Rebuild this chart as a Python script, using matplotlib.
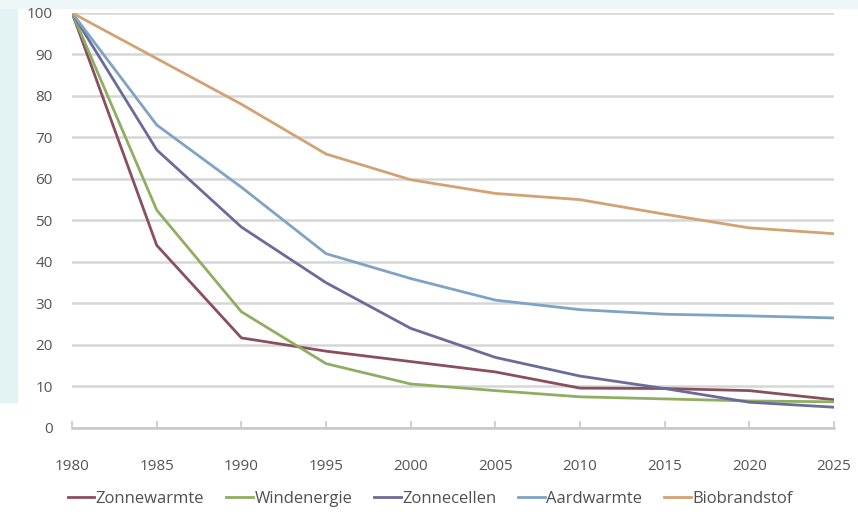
import matplotlib.pyplot as plt
from matplotlib.patches import Rectangle

# Jaren en relatieve kosten (1980 = 100)
years = [1980, 1985, 1990, 1995, 2000, 2005, 2010, 2015, 2020, 2025]
zonnewarmte = [100, 44, 21.7, 18.5, 16, 13.5, 9.6, 9.5, 9, 6.8]
windenergie = [100, 52.5, 28, 15.5, 10.6, 9, 7.5, 7, 6.5, 6.3]
zonnecellen = [100, 67, 48.4, 35, 24, 17, 12.5, 9.5, 6.2, 5]
aardwarmte = [100, 73, 58, 42, 36, 30.8, 28.5, 27.4, 27, 26.5]
biobrandstof = [100, 89, 78, 66, 59.8, 56.5, 55, 51.5, 48.2, 46.8]

series = [
    ('Zonnewarmte', zonnewarmte, '#8a4f5f'),
    ('Windenergie', windenergie, '#8fae62'),
    ('Zonnecellen', zonnecellen, '#6b6b9b'),
    ('Aardwarmte', aardwarmte, '#7fa3c4'),
    ('Biobrandstof', biobrandstof, '#d3a273'),
]
y_ticks = list(range(0, 101, 10))

plt.rcParams['font.family'] = ['Open Sans', 'DejaVu Sans']

fig = plt.figure(figsize=(8.58, 5.15), dpi=100)
# faint decorative background on the left and top
fig.patches.append(Rectangle((0, 0.22), 0.02, 0.78, transform=fig.transFigure,
                             color='#e3f3f3', zorder=-5))
fig.patches.append(Rectangle((0, 0.985), 1, 0.015, transform=fig.transFigure,
                             color='#eef7f7', zorder=-5))

ax = fig.add_axes([0.084, 0.169, 0.888, 0.806])
ax.set_facecolor('none')

for name, values, color in series:
    ax.plot(years, values, color=color, linewidth=2, label=name, zorder=3)

ax.set_xlim(1980, 2025)
ax.set_ylim(0, 100)
ax.set_yticks(y_ticks)
ax.set_xticks(years)
ax.grid(axis='y', color='#d6d6d6', linewidth=1.8)
ax.set_axisbelow(True)

for side in ['top', 'right', 'left']:
    ax.spines[side].set_visible(False)
ax.spines['bottom'].set_color('#c8c8c8')
ax.spines['bottom'].set_linewidth(1.8)

ax.tick_params(axis='y', length=0, pad=14, labelsize=11, labelcolor='#555555')
ax.tick_params(axis='x', direction='in', length=5, width=1.2, color='#c8c8c8',
               pad=22, labelsize=11, labelcolor='#555555')

ax.legend(loc='upper center', bbox_to_anchor=(0.47, -0.115), ncol=5, frameon=False,
          handlelength=1.6, handletextpad=0.1, columnspacing=1.3, fontsize=12,
          labelcolor='#505050')

fig.savefig('out.png', dpi=100)
